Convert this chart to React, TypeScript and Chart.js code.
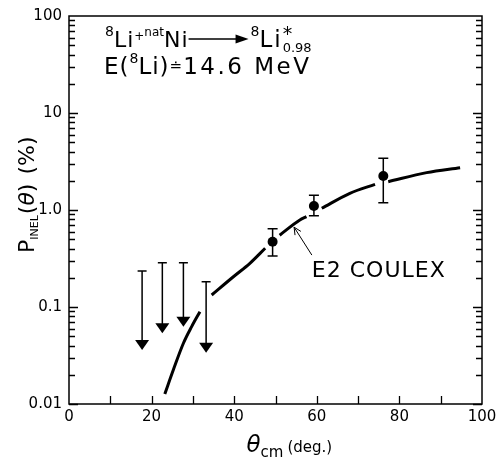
import React, { useEffect, useRef } from "react";
import { Chart, registerables } from "chart.js";

Chart.register(...registerables);

// ---- data ----
const pointTheta = [49.3, 59.3, 76.1];
const pointValue = [0.47, 1.1, 2.24];
const pointErrLow = [0.336, 0.87, 1.19];
const pointErrHigh = [0.64, 1.42, 3.41];

const limitTheta = [17.7, 22.6, 27.7, 33.2];
const limitTop = [0.235, 0.286, 0.286, 0.182];
const limitTip = [0.036, 0.0536, 0.0627, 0.0338];

const curveTheta = [23.2, 25.25, 27.7, 29.7, 31.7, 33, 34.55, 39.8, 43.8, 47.5, 49, 51, 55.9, 57.5, 59, 61.2, 68, 74.1, 75.5, 77.3, 86.6, 94.7];
const curveValue = [0.0127, 0.0224, 0.0423, 0.0628, 0.0895, null, 0.133, 0.205, 0.282, 0.403, null, 0.55, 0.789, 0.853, null, 1.042, 1.486, 1.841, null, 1.959, 2.427, 2.729];

const xTickValues = [0, 20, 40, 60, 80, 100];
const xTickMarks = [10, 20, 30, 40, 50, 60, 70, 80, 90];
const yTickValues = [0.01, 0.1, 1, 10, 100];
const yTickLabels = ["0.01", "0.1", "1.0", "10", "100"];

const curveLabel = "E2 COULEX";
const curveLabelAt = [58.8, 0.204];
const pointerTail = [58.8, 0.343];
const pointerTip = [54.5, 0.665];

const FAMILY = "'DejaVu Sans', sans-serif";
const F = (size: number, style = "") => `${style} ${size}px ${FAMILY}`.trim();

type Run = { text: string; font: string; dy?: number; dx?: number; gap?: number; ls?: number };

function drawRuns(ctx: CanvasRenderingContext2D, x: number, y: number, runs: Run[]) {
  for (const r of runs) {
    ctx.font = r.font;
    try { (ctx as any).letterSpacing = `${r.ls || 0}px`; } catch (e) {}
    const dx = r.dx || 0;
    ctx.fillText(r.text, x + dx, y + (r.dy || 0));
    x += ctx.measureText(r.text).width + dx + (r.gap || 0);
  }
  try { (ctx as any).letterSpacing = "0px"; } catch (e) {}
  return x;
}

const decorPlugin = {
  id: "decor",
  afterDatasetsDraw(chart: any) {
    const { ctx, chartArea: a } = chart;
    const xs = chart.scales.x;
    const ys = chart.scales.y;
    ctx.save();
    ctx.strokeStyle = "#000";
    ctx.fillStyle = "#000";

    // frame
    ctx.lineWidth = 1.5;
    ctx.strokeRect(a.left, a.top, a.right - a.left, a.bottom - a.top);

    // bottom ticks (inward)
    ctx.lineWidth = 1.3;
    ctx.beginPath();
    for (const t of xTickMarks) {
      const px = Math.round(xs.getPixelForValue(t)) + 0.5;
      ctx.moveTo(px, a.bottom);
      ctx.lineTo(px, a.bottom - 8);
    }
    // left / right log ticks (inward)
    for (let d = 0; d < yTickValues.length - 1; d++) {
      for (let m = 1; m <= 9; m++) {
        const v = yTickValues[d] * m;
        const py = Math.round(ys.getPixelForValue(v)) + 0.5;
        const len = m === 1 ? 9 : 6;
        ctx.moveTo(a.left, py);
        ctx.lineTo(a.left + len, py);
        ctx.moveTo(a.right, py);
        ctx.lineTo(a.right - len, py);
      }
    }
    ctx.stroke();

    // error bars
    ctx.lineWidth = 1.5;
    ctx.beginPath();
    for (let i = 0; i < pointTheta.length; i++) {
      const px = xs.getPixelForValue(pointTheta[i]);
      const yl = ys.getPixelForValue(pointErrLow[i]);
      const yh = ys.getPixelForValue(pointErrHigh[i]);
      ctx.moveTo(px, yl);
      ctx.lineTo(px, yh);
      ctx.moveTo(px - 5, yl);
      ctx.lineTo(px + 5, yl);
      ctx.moveTo(px - 5, yh);
      ctx.lineTo(px + 5, yh);
    }
    ctx.stroke();

    // upper-limit arrows
    for (let i = 0; i < limitTheta.length; i++) {
      const px = xs.getPixelForValue(limitTheta[i]);
      const yt = ys.getPixelForValue(limitTop[i]);
      const yb = ys.getPixelForValue(limitTip[i]);
      ctx.lineWidth = 1.5;
      ctx.beginPath();
      ctx.moveTo(px, yt);
      ctx.lineTo(px, yb - 9);
      ctx.moveTo(px - 4.5, yt);
      ctx.lineTo(px + 4.5, yt);
      ctx.stroke();
      ctx.beginPath();
      ctx.moveTo(px - 7, yb - 10);
      ctx.lineTo(px + 7, yb - 10);
      ctx.lineTo(px, yb);
      ctx.closePath();
      ctx.fill();
    }

    // pointer arrow to the curve
    const tx = xs.getPixelForValue(pointerTail[0]);
    const ty = ys.getPixelForValue(pointerTail[1]);
    const hx = xs.getPixelForValue(pointerTip[0]);
    const hy = ys.getPixelForValue(pointerTip[1]);
    const ang = Math.atan2(hy - ty, hx - tx);
    ctx.lineWidth = 1;
    ctx.beginPath();
    ctx.moveTo(tx, ty);
    ctx.lineTo(hx, hy);
    for (const s of [-0.45, 0.45]) {
      ctx.moveTo(hx, hy);
      ctx.lineTo(hx - 8 * Math.cos(ang + s), hy - 8 * Math.sin(ang + s));
    }
    ctx.stroke();

    // curve label
    ctx.textBaseline = "alphabetic";
    ctx.textAlign = "left";
    drawRuns(ctx, xs.getPixelForValue(curveLabelAt[0]), ys.getPixelForValue(curveLabelAt[1]), [
      { text: curveLabel, font: F(22), ls: 1 },
    ]);

    // reaction annotation
    let x = a.left + 36;
    let y = a.top + 31;
    x = drawRuns(ctx, x, y, [
      { text: "8", font: F(14), dy: -11 },
      { text: "Li", font: F(22), ls: 1 },
      { text: "+", font: F(12), dy: -7, dx: 0 },
      { text: "nat", font: F(12), dy: -11 },
      { text: "Ni", font: F(22), ls: 1 },
    ]);
    const ay = y - 8;
    const ax0 = x;
    const ax1 = x + 60;
    ctx.lineWidth = 1.5;
    ctx.beginPath();
    ctx.moveTo(ax0, ay);
    ctx.lineTo(ax1 - 8, ay);
    ctx.stroke();
    ctx.beginPath();
    ctx.moveTo(ax1, ay);
    ctx.lineTo(ax1 - 13, ay - 4.5);
    ctx.lineTo(ax1 - 13, ay + 4.5);
    ctx.closePath();
    ctx.fill();
    x = drawRuns(ctx, ax1 + 2, y, [
      { text: "8", font: F(14), dy: -11 },
      { text: "Li", font: F(23), ls: 2 },
    ]);
    ctx.font = F(19);
    ctx.fillText("*", x, y - 7);
    ctx.font = F(13);
    ctx.fillText("0.98", x, y + 5);

    x = a.left + 35;
    y = a.top + 58;
    drawRuns(ctx, x, y, [
      { text: "E", font: F(23), ls: 1 },
      { text: "(", font: F(23), ls: 1 },
      { text: "8", font: F(14), dy: -11 },
      { text: "Li", font: F(23), ls: 1 },
      { text: ")", font: F(23), gap: 1 },
      { text: "≐", font: F(15), dy: -3, gap: 1 },
      { text: "14.6 MeV", font: F(23), ls: 2.5 },
    ]);

    ctx.restore();
  },
  afterDraw(chart: any) {
    const { ctx, chartArea: a } = chart;
    ctx.save();
    ctx.fillStyle = "#000";
    ctx.textBaseline = "alphabetic";
    ctx.textAlign = "left";

    // y title (rotated)
    ctx.translate(34, a.top + 237);
    ctx.rotate(-Math.PI / 2);
    drawRuns(ctx, 0, 0, [
      { text: "P", font: F(22) },
      { text: "INEL", font: F(11), dy: 4, gap: 1 },
      { text: "(", font: F(22) },
      { text: "θ", font: F(22, "italic") },
      { text: ")", font: F(22), gap: 9 },
      { text: "(%)", font: F(22) },
    ]);
    ctx.setTransform(1, 0, 0, 1, 0, 0);

    // x title
    const cx = (a.left + a.right) / 2;
    drawRuns(ctx, cx - 29, a.bottom + 48, [
      { text: "θ", font: F(23, "italic") },
      { text: "cm", font: F(15), dy: 5, gap: 4 },
      { text: "(deg.)", font: F(15) },
    ]);
    ctx.restore();
  },
};

export default function App() {
  const ref = useRef<HTMLCanvasElement | null>(null);
  useEffect(() => {
    document.body.style.margin = "0";
    const canvas = ref.current;
    if (!canvas) return;
    const chart = new Chart(canvas, {
      type: "scatter",
      data: {
        datasets: [
          {
            data: pointTheta.map((t, i) => ({ x: t, y: pointValue[i] })),
            pointRadius: 5,
            pointBackgroundColor: "#000",
            pointBorderColor: "#000",
            pointBorderWidth: 0,
            showLine: false,
          },
          {
            data: curveTheta.map((t, i) => ({ x: t, y: curveValue[i] as any })),
            showLine: true,
            pointRadius: 0,
            borderColor: "#000",
            borderWidth: 3,
            cubicInterpolationMode: "monotone",
            spanGaps: false,
          } as any,
        ],
      },
      options: {
        animation: false,
        responsive: false,
        events: [],
        plugins: { legend: { display: false }, tooltip: { enabled: false } },
        layout: { padding: { top: 16, right: 20, left: 0, bottom: 0 } },
        scales: {
          x: {
            type: "linear",
            min: 0,
            max: 100,
            grid: { display: false, drawTicks: false },
            border: { display: false },
            afterBuildTicks: (s: any) => {
              s.ticks = xTickValues.map((v) => ({ value: v }));
            },
            ticks: {
              autoSkip: false,
              maxRotation: 0,
              padding: 4,
              color: "#000",
              font: { family: FAMILY, size: 15 },
            },
            afterFit: (s: any) => {
              s.height = 55;
            },
          },
          y: {
            type: "logarithmic",
            min: 0.01,
            max: 100,
            grid: { display: false, drawTicks: false },
            border: { display: false },
            afterBuildTicks: (s: any) => {
              s.ticks = yTickValues.map((v) => ({ value: v }));
            },
            ticks: {
              autoSkip: false,
              padding: 7,
              color: "#000",
              font: { family: FAMILY, size: 15 },
              callback: (v: any) => {
                const i = yTickValues.indexOf(Number(v));
                return i >= 0 ? yTickLabels[i] : "";
              },
            },
            afterFit: (s: any) => {
              s.width = 69;
            },
          },
        },
      } as any,
      plugins: [decorPlugin],
    });
    return () => chart.destroy();
  }, []);
  return (
    <div style={{ position: "fixed", left: 0, top: 0, width: 502, height: 459, background: "#fff" }}>
      <canvas ref={ref} width={502} height={459} />
    </div>
  );
}
